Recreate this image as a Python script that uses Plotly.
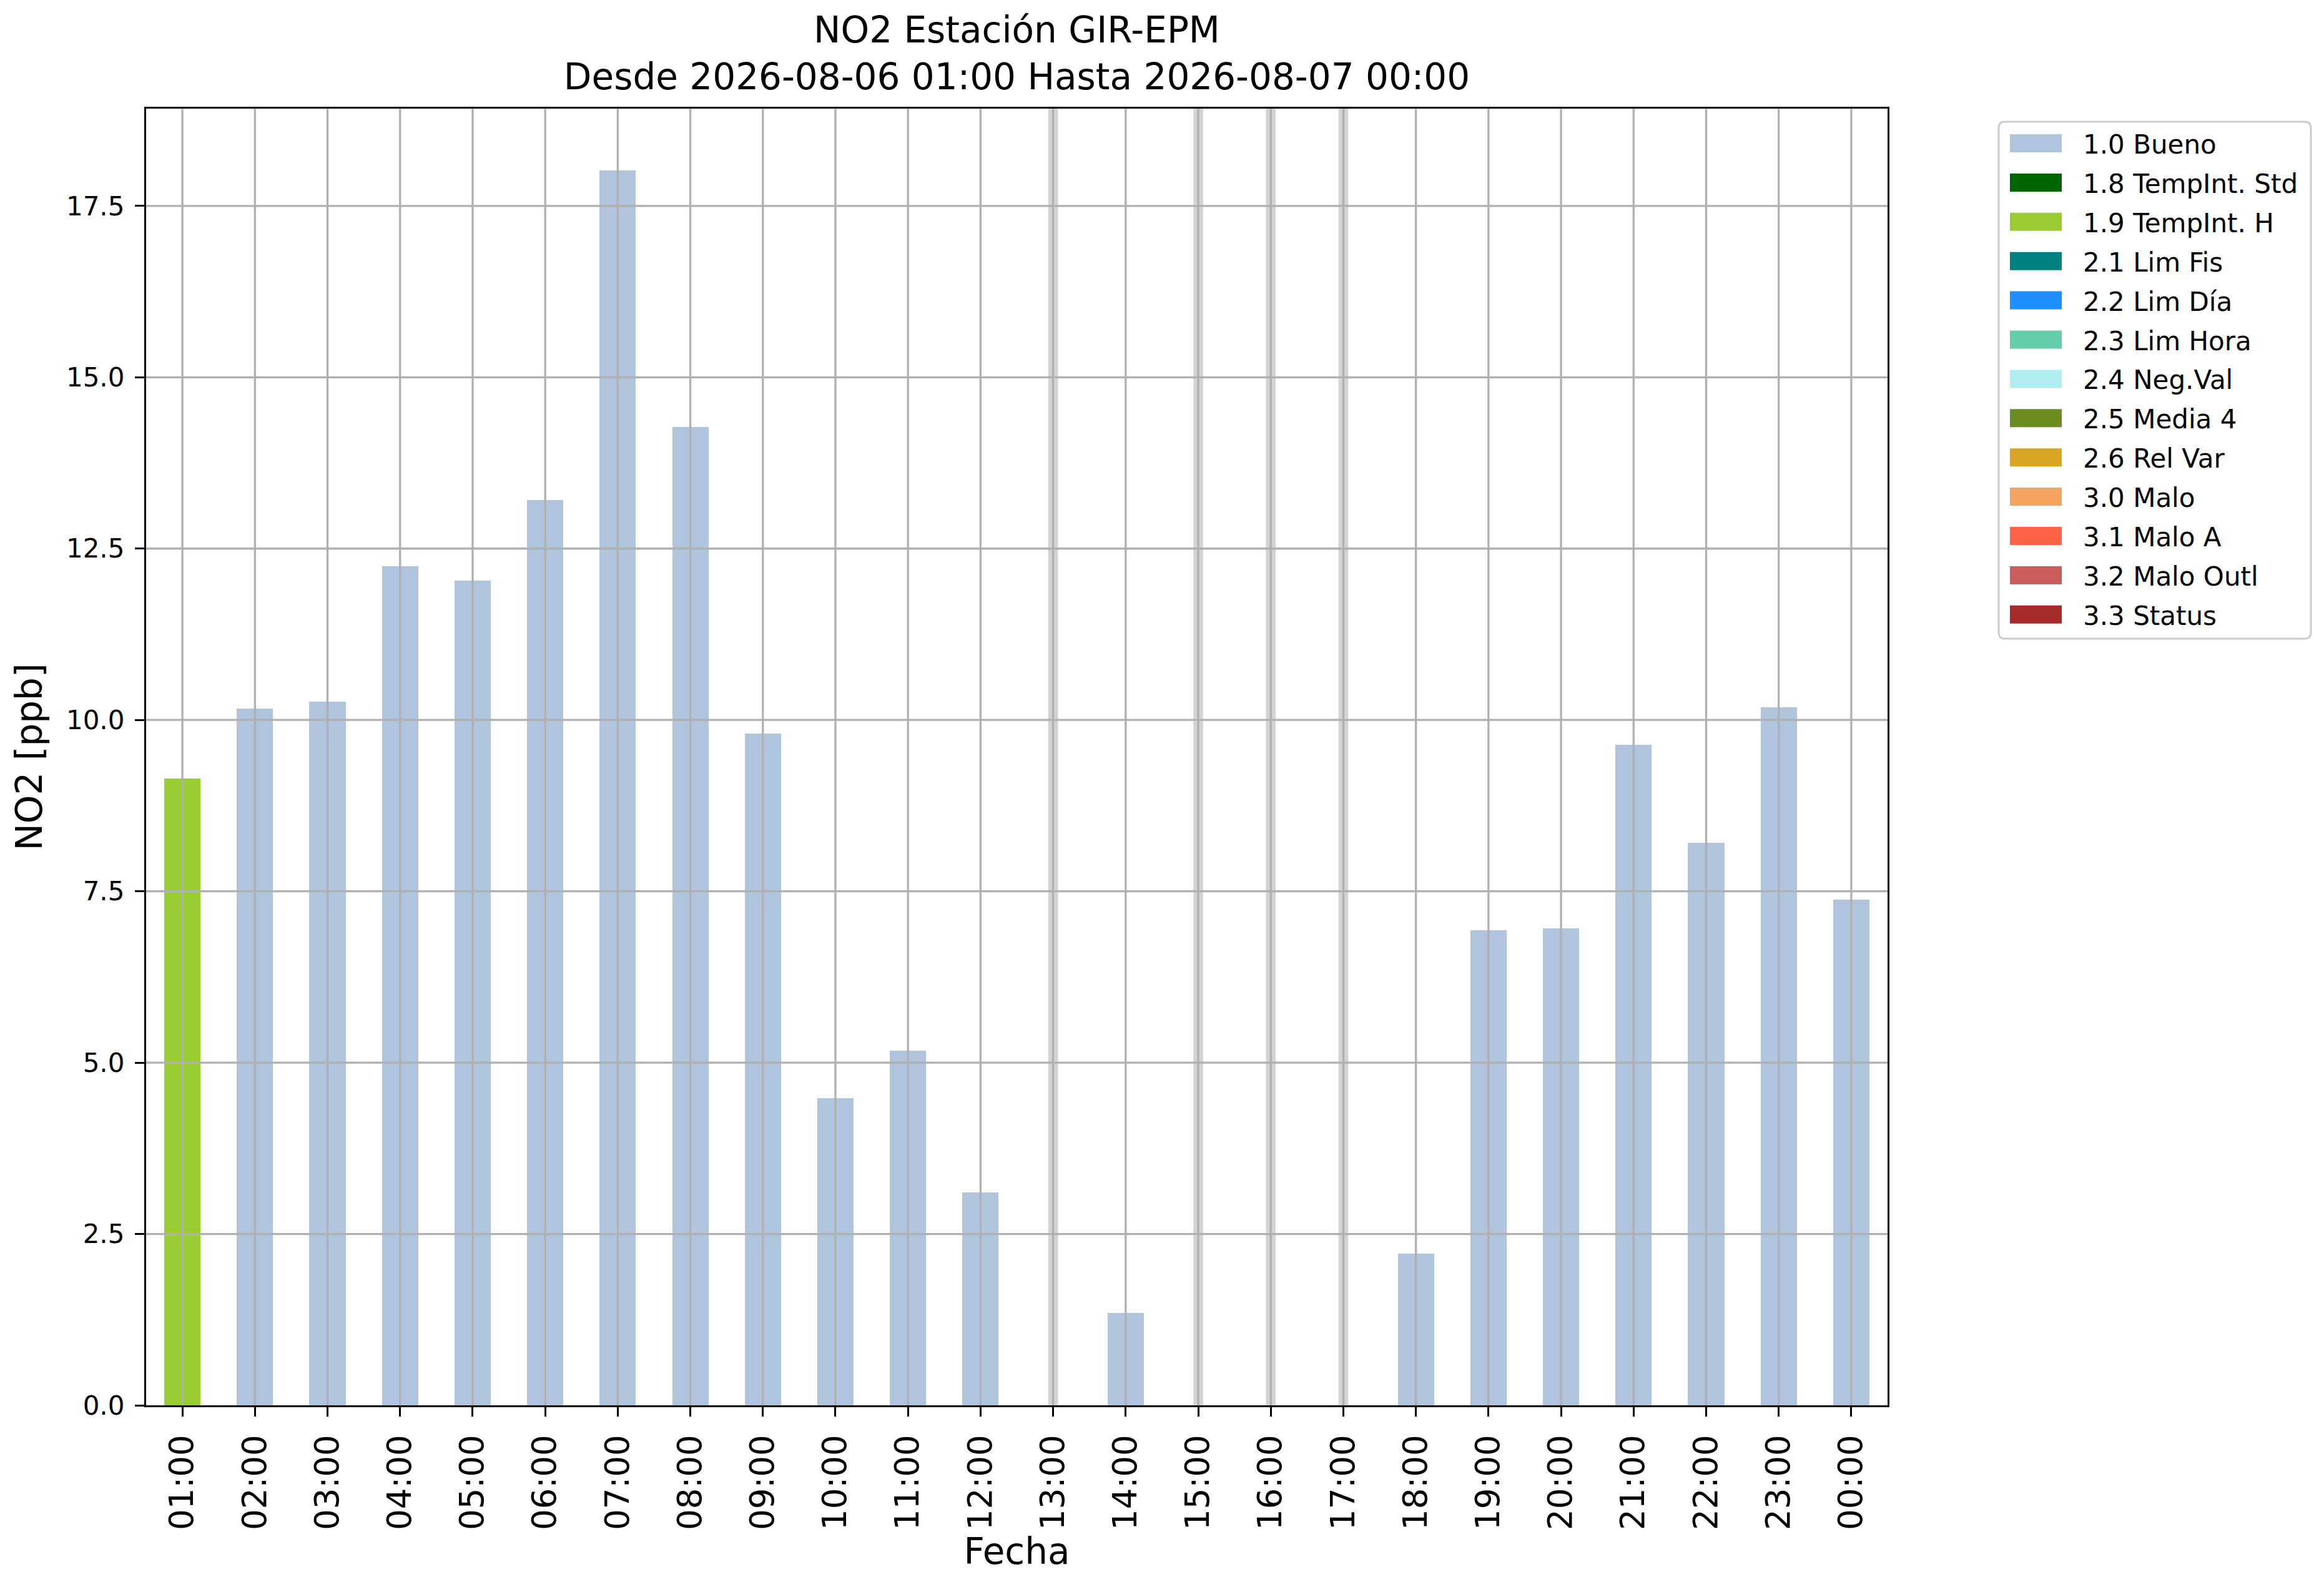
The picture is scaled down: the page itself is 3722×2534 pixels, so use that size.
import plotly.graph_objects as go

# horas del periodo y valores de NO2 [ppb] (None = sin dato)
horas = ["01:00", "02:00", "03:00", "04:00", "05:00", "06:00", "07:00", "08:00",
         "09:00", "10:00", "11:00", "12:00", "13:00", "14:00", "15:00", "16:00",
         "17:00", "18:00", "19:00", "20:00", "21:00", "22:00", "23:00", "00:00"]
no2 = [9.15, 10.17, 10.27, 12.24, 12.03, 13.21, 18.02, 14.27,
       9.80, 4.48, 5.17, 3.11, None, 1.35, None, None,
       None, 2.21, 6.93, 6.96, 9.64, 8.21, 10.18, 7.38]
flags = ["1.9 TempInt. H", "1.0 Bueno", "1.0 Bueno", "1.0 Bueno", "1.0 Bueno", "1.0 Bueno",
         "1.0 Bueno", "1.0 Bueno", "1.0 Bueno", "1.0 Bueno", "1.0 Bueno", "1.0 Bueno",
         None, "1.0 Bueno", None, None, None, "1.0 Bueno", "1.0 Bueno", "1.0 Bueno",
         "1.0 Bueno", "1.0 Bueno", "1.0 Bueno", "1.0 Bueno"]

# categorias de calidad del dato y sus colores
categorias = ["1.0 Bueno", "1.8 TempInt. Std", "1.9 TempInt. H", "2.1 Lim Fis",
              "2.2 Lim Día", "2.3 Lim Hora", "2.4 Neg.Val", "2.5 Media 4",
              "2.6 Rel Var", "3.0 Malo", "3.1 Malo A", "3.2 Malo Outl", "3.3 Status"]
colores = ["#b0c4de", "#006400", "#9acd32", "#008080", "#1e90ff", "#66cdaa",
           "#afeeee", "#6b8e23", "#daa520", "#f4a460", "#ff6347", "#cd5c5c", "#a52a2a"]

yticks = [0.0, 2.5, 5.0, 7.5, 10.0, 12.5, 15.0, 17.5]

FONT = "DejaVu Sans"
GRID = "#b0b0b0"
W, H = 3722, 2534
ML, MR, MT, MB = 226, 707, 166, 291
PW, PH = W - ML - MR, H - MT - MB


def px2x(px):
    return (px - ML) / PW


def px2y(py):
    return (H - MB - py) / PH


fig = go.Figure()
for cat, col in zip(categorias, colores):
    y = [v if f == cat else None for v, f in zip(no2, flags)]
    fig.add_trace(go.Bar(x=horas, y=y, name=cat, marker_color=col,
                         marker_line_width=0, width=0.5, showlegend=False))

shapes = []
# franjas grises donde falta el dato
for h, v in zip(horas, no2):
    if v is None:
        shapes.append(dict(type="line", xref="x", yref="paper", x0=h, x1=h, y0=0, y1=1,
                           line=dict(color="#d3d3d3", width=15.6), layer="below"))
# rejilla por encima de las barras (como en matplotlib)
for h in horas:
    shapes.append(dict(type="line", xref="x", yref="paper", x0=h, x1=h, y0=0, y1=1,
                       line=dict(color=GRID, width=3.3), layer="above"))
for t in yticks[1:]:
    shapes.append(dict(type="line", xref="paper", yref="y", x0=0, x1=1, y0=t, y1=t,
                       line=dict(color=GRID, width=3.3), layer="above"))

# leyenda estilo matplotlib: caja redondeada, rectangulos de color y texto
bx0, bx1, by0, by1, r = 3193, 3693, 187, 1015, 10
path = ("M {a},{b} L {c},{b} Q {e},{b} {e},{f} L {e},{g} Q {e},{h} {c},{h} "
        "L {a},{h} Q {i},{h} {i},{g} L {i},{f} Q {i},{b} {a},{b} Z").format(
    a=px2x(bx0 + r), b=px2y(by0), c=px2x(bx1 - r), e=px2x(bx1), f=px2y(by0 + r),
    g=px2y(by1 - r), h=px2y(by1), i=px2x(bx0))
shapes.append(dict(type="path", xref="paper", yref="paper", path=path,
                   fillcolor="white", line=dict(color="#cccccc", width=3), layer="above"))
annotations = []
for k, (cat, col) in enumerate(zip(categorias, colores)):
    cy = 221.5 + k * 62.9
    shapes.append(dict(type="rect", xref="paper", yref="paper",
                       x0=px2x(3211), x1=px2x(3294), y0=px2y(cy - 14.5), y1=px2y(cy + 14.5),
                       fillcolor=col, line=dict(width=0), layer="above"))
    annotations.append(dict(text=cat, xref="paper", yref="paper",
                            x=px2x(3326), y=px2y(cy + 2), xanchor="left", yanchor="middle",
                            showarrow=False, font=dict(family=FONT, size=42, color="black")))

fig.update_layout(
    width=W, height=H,
    margin=dict(l=ML, r=MR, t=MT, b=MB),
    paper_bgcolor="white", plot_bgcolor="white",
    font=dict(family=FONT, color="black", size=42),
    barmode="stack",
    showlegend=False,
    shapes=shapes,
    annotations=annotations,
    title=dict(text="NO2 Estación GIR-EPM<br>Desde 2026-08-06 01:00 Hasta 2026-08-07 00:00",
               x=0.5, xref="paper", xanchor="center",
               y=1 - 60 / H, yref="container", yanchor="top",
               font=dict(family=FONT, size=58, color="black")),
    xaxis=dict(
        type="category", range=[-0.5, 23.5],
        tickangle=-90, tickfont=dict(size=53),
        ticks="outside", ticklen=15, tickwidth=3.3, tickcolor="black",
        ticklabelstandoff=8,
        showline=True, linecolor="black", linewidth=3.3, mirror=True,
        showgrid=False, zeroline=False,
        title=dict(text="Fecha", font=dict(size=58), standoff=0),
    ),
    yaxis=dict(
        range=[0, 18.92], tickvals=yticks, tickformat=".1f",
        tickfont=dict(size=42),
        ticks="outside", ticklen=15, tickwidth=3.3, tickcolor="black",
        ticklabelstandoff=8,
        showline=True, linecolor="black", linewidth=3.3, mirror=True,
        showgrid=False, zeroline=False,
        title=dict(text="NO2 [ppb]", font=dict(size=58), standoff=20),
    ),
)

fig.write_html("out.html")
